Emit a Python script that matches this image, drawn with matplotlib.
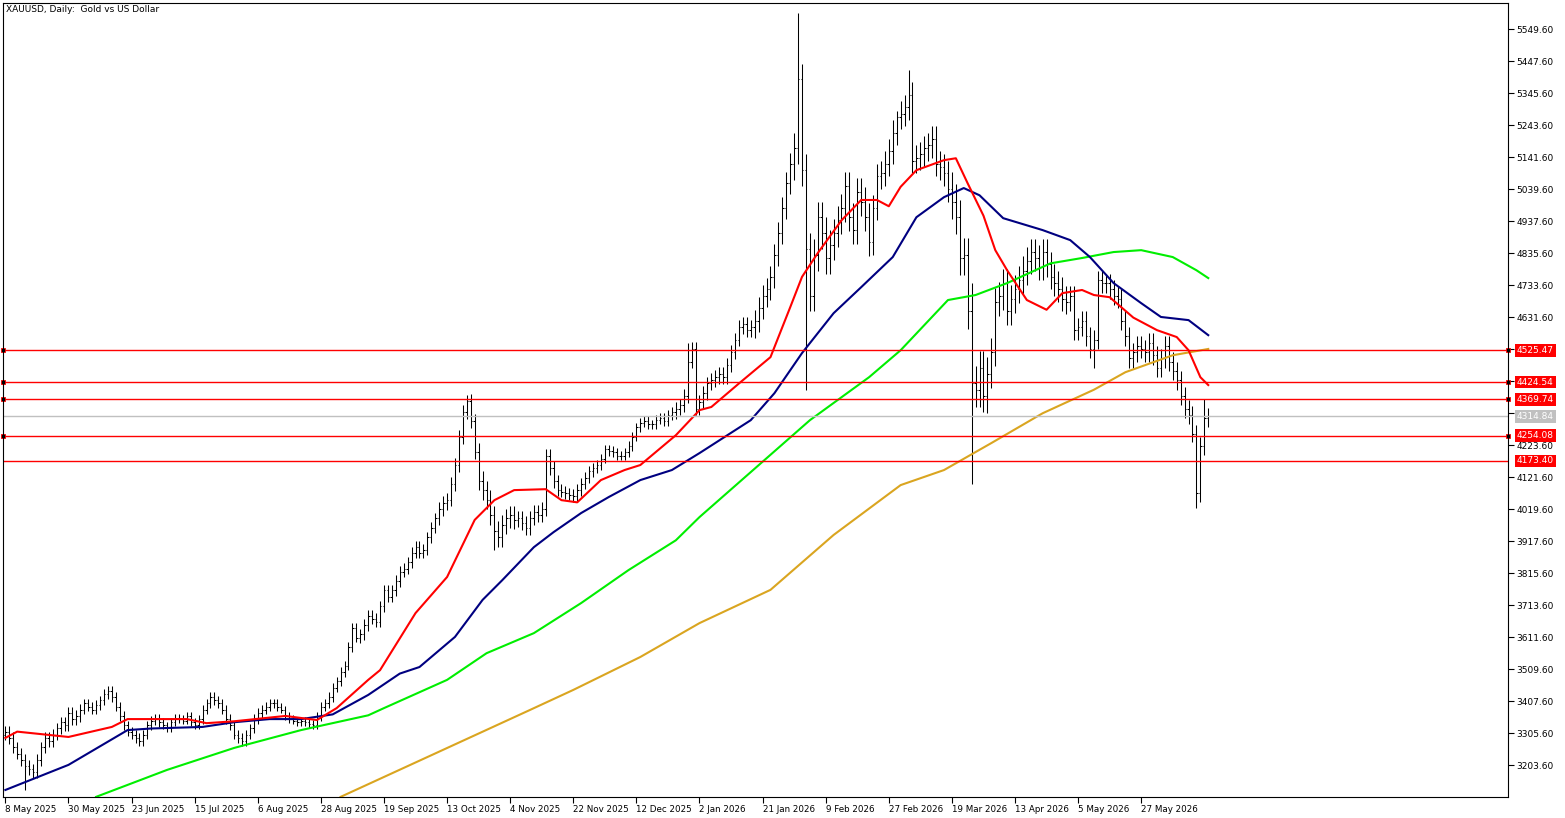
import matplotlib.pyplot as plt
from matplotlib.ticker import FixedLocator

# daily closes, 8 May 2025 .. early Jun 2026
closes = [
    3310, 3290, 3260, 3240, 3220, 3200, 3190, 3180, 3220, 3260,
    3290, 3280, 3300, 3320, 3340, 3330, 3370, 3350, 3360, 3380,
    3400, 3390, 3380, 3395, 3410, 3430, 3440, 3420, 3390, 3360,
    3330, 3310, 3300, 3290, 3280, 3300, 3330, 3345, 3350, 3340,
    3330, 3320, 3340, 3355, 3350, 3345, 3360, 3340, 3330, 3350,
    3380, 3400, 3420, 3410, 3400, 3380, 3350, 3330, 3300, 3290,
    3280, 3300, 3320, 3350, 3370, 3380, 3390, 3400, 3400, 3390,
    3380, 3360, 3350, 3345, 3340, 3345, 3340, 3335, 3330, 3360,
    3390, 3400, 3420, 3450, 3470, 3500, 3520, 3580, 3640, 3610,
    3620, 3650, 3680, 3670, 3660, 3710, 3760, 3740, 3760, 3790,
    3820, 3830, 3850, 3880, 3900, 3880, 3890, 3930, 3960, 3990,
    4020, 4040, 4050, 4100, 4160, 4250, 4330, 4365, 4300, 4200,
    4110, 4080, 4050, 4000, 3950, 3930, 3970, 3990, 4000, 3985,
    3990, 3975, 3960, 3990, 4010, 4000, 4020, 4190, 4150, 4110,
    4080, 4075, 4070, 4065, 4060, 4080, 4100, 4120, 4140, 4150,
    4160, 4180, 4210, 4205, 4200, 4190, 4190, 4200, 4220, 4250,
    4280, 4295, 4300, 4290, 4290, 4305, 4310, 4300, 4320, 4330,
    4340, 4350, 4380, 4490, 4530, 4340, 4360, 4390, 4420, 4430,
    4440, 4450, 4440, 4480, 4520, 4560, 4600, 4610, 4590, 4600,
    4620, 4660, 4700, 4720, 4760, 4830, 4900, 4980, 5060, 5120,
    5170, 5390, 5100, 4850, 4700, 4830, 4950, 4900, 4820, 4860,
    4900, 4940, 4980, 5050, 4950, 4910, 5030, 5000, 4950, 4870,
    4980, 5080, 5090, 5120, 5160, 5220, 5270, 5280, 5300, 5340,
    5130, 5140, 5150, 5170, 5180, 5200, 5120, 5110, 5090, 5040,
    5000, 4950, 4820, 4830, 4650, 4420, 4400, 4470, 4380, 4450,
    4520, 4680, 4700, 4740, 4650, 4690, 4720, 4750, 4780, 4810,
    4840, 4820, 4790, 4840, 4800, 4760, 4740, 4720, 4690, 4680,
    4700, 4590, 4600, 4620, 4570, 4530, 4560, 4750, 4740, 4740,
    4720, 4700, 4690, 4620, 4570, 4500, 4520, 4540, 4530, 4520,
    4550, 4510, 4470, 4500, 4540, 4490, 4460, 4430, 4380, 4340,
    4320, 4260, 4070, 4220, 4310, 4314.84,
]
first_open = 3300
# typical wick beyond open/close, per block of 10 bars
wicks = [18, 18, 15, 15, 12, 15, 15, 12, 15, 18, 18, 22, 30, 22, 18, 15, 15,
         22, 22, 35, 50, 45, 40, 40, 55, 45, 40, 30, 30, 30, 28]
# notable extremes
extreme_highs = {117: 4383, 173: 4550, 201: 5600, 229: 5420, 226: 5290,
                 245: 4740, 304: 4370}
extreme_lows = {5: 3125, 124: 3890, 203: 4400, 245: 4100, 248: 4330,
                276: 4470, 302: 4023}

date_labels = ['8 May 2025', '30 May 2025', '23 Jun 2025', '15 Jul 2025', '6 Aug 2025',
               '28 Aug 2025', '19 Sep 2025', '13 Oct 2025', '4 Nov 2025', '22 Nov 2025',
               '12 Dec 2025', '2 Jan 2026', '21 Jan 2026', '9 Feb 2026', '27 Feb 2026',
               '19 Mar 2026', '13 Apr 2026', '5 May 2026', '27 May 2026']
date_step = 16

red_idx = [0, 3, 16, 27, 31, 46, 51, 58, 71, 79, 84, 92, 95, 104, 112, 119, 124, 129, 137,
           141, 145, 151, 157, 161, 170, 176, 179, 186, 194, 199, 202, 206, 212, 217, 221,
           224, 227, 231, 238, 241, 244, 248, 251, 254, 259, 264, 268, 273, 276, 280, 286,
           292, 297, 300, 303, 305]
red_val = [3290, 3310, 3293, 3325, 3350, 3350, 3337, 3343, 3360, 3347, 3385, 3475, 3506,
           3688, 3803, 3985, 4048, 4080, 4083, 4048, 4041, 4112, 4144, 4160, 4255, 4335,
           4345, 4420, 4504, 4663, 4760, 4836, 4940, 5005, 5005, 4985, 5047, 5100, 5132,
           5138, 5058, 4955, 4845, 4781, 4686, 4655, 4708, 4718, 4702, 4695, 4630, 4590,
           4568, 4526, 4440, 4415]
navy_idx = [0, 16, 31, 37, 50, 58, 67, 75, 83, 92, 100, 105, 114, 121, 126, 134, 139, 146,
            153, 161, 169, 176, 189, 195, 202, 210, 217, 225, 231, 238, 243, 247, 253, 263,
            270, 275, 281, 288, 293, 300, 305]
navy_val = [3124, 3204, 3315, 3320, 3325, 3340, 3350, 3350, 3365, 3427, 3495, 3516, 3612,
            3730, 3793, 3898, 3946, 4007, 4058, 4112, 4144, 4198, 4303, 4389, 4517, 4644,
            4727, 4823, 4950, 5014, 5043, 5020, 4947, 4909, 4877, 4823, 4740, 4676, 4632,
            4622, 4574]
green_idx = [23, 41, 58, 75, 92, 96, 112, 122, 134, 146, 158, 170, 176, 204, 219, 227, 239,
             246, 254, 265, 273, 281, 288, 296, 302, 305]
green_val = [3102, 3188, 3258, 3315, 3362, 3385, 3475, 3560, 3624, 3720, 3825, 3920, 3994,
             4303, 4440, 4526, 4686, 4702, 4740, 4803, 4820, 4839, 4845, 4823, 4781, 4756]
orange_idx = [85, 133, 144, 161, 176, 194, 210, 227, 238, 250, 263, 276, 284, 296, 305]
orange_val = [3102, 3379, 3443, 3548, 3656, 3762, 3937, 4096, 4144, 4230, 4325, 4400, 4456,
              4510, 4530]

levels = [4525.47, 4424.54, 4369.74, 4254.08, 4173.40]
level_marked = [True, True, True, True, False]
bid = 4314.84

price_ticks = [3203.60 + 102 * k for k in range(24)]

fig = plt.figure(figsize=(15.65, 8.18), dpi=100)
ax = fig.add_axes([3 / 1565, 21 / 818, 1505 / 1565, 794 / 818])
ax.set_xlim(-0.6, 381)
ax.set_ylim(3101.6, 5633)

# OHLC bars
opens = [first_open] + closes[:-1]
for i, c in enumerate(closes):
    o = opens[i]
    w = wicks[i // 10]
    hi = extreme_highs.get(i, max(o, c) + w)
    lo = extreme_lows.get(i, min(o, c) - w)
    ax.plot([i, i], [lo, hi], color='black', lw=0.75, solid_capstyle='butt')
    ax.plot([i - 0.35, i], [o, o], color='black', lw=0.75, solid_capstyle='butt')
    ax.plot([i, i + 0.35], [c, c], color='black', lw=0.75, solid_capstyle='butt')

ax.plot(orange_idx, orange_val, color='#daa520', lw=1.5)
ax.plot(green_idx, green_val, color='#00ee00', lw=1.5)
ax.plot(navy_idx, navy_val, color='#000080', lw=1.5)
ax.plot(red_idx, red_val, color='#ff0000', lw=1.5)

# horizontal levels
ax.axhline(bid, color='#c0c0c0', lw=1.0)
for lv, marked in zip(levels, level_marked):
    ax.axhline(lv, color='#ff0000', lw=1.0)
    if marked:
        ax.plot([0.0], [lv], 's', ms=3.5, mfc='black', mec='#ff0000', mew=0.6,
                transform=ax.get_yaxis_transform(), clip_on=False)
        ax.plot([1.0], [lv], 's', ms=3.5, mfc='black', mec='#ff0000', mew=0.6,
                transform=ax.get_yaxis_transform(), clip_on=False)

ax.yaxis.tick_right()
ax.yaxis.set_major_locator(FixedLocator(price_ticks))
ax.set_yticklabels(['{:.2f}'.format(t) for t in price_ticks])
ax.tick_params(axis='y', direction='out', length=4, width=0.8, labelsize=6.5, pad=2)
ax.set_xticks([k * date_step for k in range(len(date_labels))])
ax.set_xticklabels(date_labels, ha='left')
ax.tick_params(axis='x', direction='out', length=4, width=0.8, labelsize=6.3, pad=2)
for s in ax.spines.values():
    s.set_linewidth(0.8)

for lv in levels + [bid]:
    fc = '#c0c0c0' if lv == bid else '#ff0000'
    ax.text(1.006, lv, '{:.2f}'.format(lv), transform=ax.get_yaxis_transform(),
            fontsize=6.5, color='white', va='center', ha='left',
            bbox=dict(boxstyle='square,pad=0.2', fc=fc, ec='none'))

ax.text(0.002, 0.997, 'XAUUSD, Daily:  Gold vs US Dollar', transform=ax.transAxes,
        fontsize=6.5, va='top', ha='left')

fig.savefig('out.png', dpi=100)
